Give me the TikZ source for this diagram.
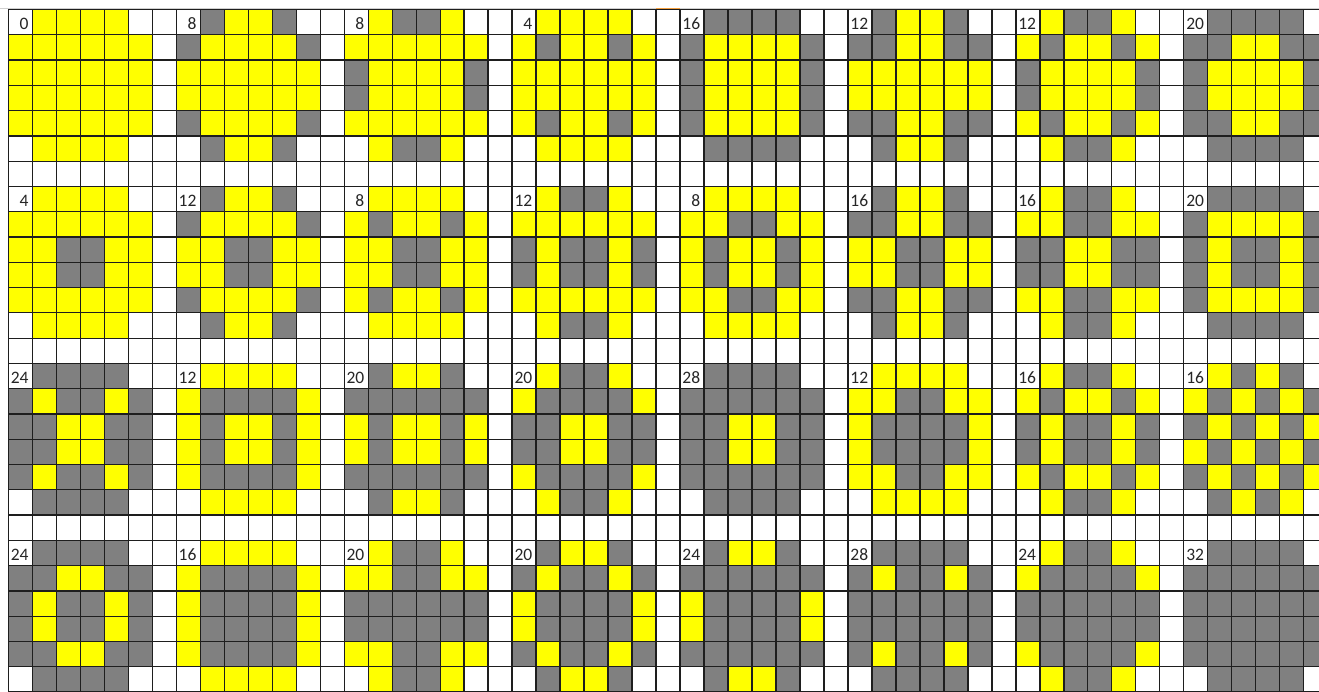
\documentclass[tikz,border=0pt]{standalone}
\usepackage{fontspec}
\setmainfont{Carlito}
\definecolor{yel}{HTML}{FFFF00}
\definecolor{gry}{HTML}{808080}
\definecolor{gridc}{HTML}{1E1E1E}
\definecolor{hdr}{HTML}{D0D0D0}
\definecolor{sel}{HTML}{F4A040}
\newcommand\cellW{23.99}
\newcommand\cellH{25.28}
\newcommand\gx{8.3}
\newcommand\gy{9.5}
\newcommand\pcell[3]{%
  \if#3Y\fill[yel] ({\gx+(\bxx+#1)*\cellW},{\gy+(\byy+#2)*\cellH}) rectangle ++(\cellW,\cellH);\fi
  \if#3G\fill[gry] ({\gx+(\bxx+#1)*\cellW},{\gy+(\byy+#2)*\cellH}) rectangle ++(\cellW,\cellH);\fi}
\newcommand\prow[7]{\pcell{0}{#1}{#2}\pcell{1}{#1}{#3}\pcell{2}{#1}{#4}\pcell{3}{#1}{#5}\pcell{4}{#1}{#6}\pcell{5}{#1}{#7}}
\newcommand\blk[9]{%
  \def\bxx{#1*7}\def\byy{#2*7}%
  \prow{0}#4\prow{1}#5\prow{2}#6\prow{3}#7\prow{4}#8\prow{5}#9%
  \node[numlbl] (n#1#2) at ({\gx+(\bxx+1)*\cellW-3.6},{\gy+(\byy+1)*\cellH-5}) {#3};}
\begin{document}
\begin{tikzpicture}[x=1pt,y=-1pt,
  numlbl/.style={anchor=base east,inner sep=0pt,font=\fontsize{17.5}{17.5}\selectfont,text=black!85},
  gridl/.style={draw=gridc,line width=1.25pt}]
\useasboundingbox (0,0) rectangle (1319,691);
\clip (0,0) rectangle (1319,691);
\fill[white] (0,0) rectangle (1319,691);
% row 0
\blk{0}{0}{0}{.YYYY.}{YYYYYY}{YYYYYY}{YYYYYY}{YYYYYY}{.YYYY.}
\blk{1}{0}{8}{.GYYG.}{GYYYYG}{YYYYYY}{YYYYYY}{GYYYYG}{.GYYG.}
\blk{2}{0}{8}{.YGGY.}{YYYYYY}{GYYYYG}{GYYYYG}{YYYYYY}{.YGGY.}
\blk{3}{0}{4}{.YYYY.}{YGYYGY}{YYYYYY}{YYYYYY}{YGYYGY}{.YYYY.}
\blk{4}{0}{16}{.GGGG.}{GYYYYG}{GYYYYG}{GYYYYG}{GYYYYG}{.GGGG.}
\blk{5}{0}{12}{.GYYG.}{GGYYGG}{YYYYYY}{YYYYYY}{GGYYGG}{.GYYG.}
\blk{6}{0}{12}{.YGGY.}{YGYYGY}{GYYYYG}{GYYYYG}{YGYYGY}{.YGGY.}
\blk{7}{0}{20}{.GGGG.}{GGYYGG}{GYYYYG}{GYYYYG}{GGYYGG}{.GGGG.}
% row 1
\blk{0}{1}{4}{.YYYY.}{YYYYYY}{YYGGYY}{YYGGYY}{YYYYYY}{.YYYY.}
\blk{1}{1}{12}{.GYYG.}{GYYYYG}{YYGGYY}{YYGGYY}{GYYYYG}{.GYYG.}
\blk{2}{1}{8}{.YYYY.}{YGYYGY}{YYGGYY}{YYGGYY}{YGYYGY}{.YYYY.}
\blk{3}{1}{12}{.YGGY.}{YYYYYY}{GYGGYG}{GYGGYG}{YYYYYY}{.YGGY.}
\blk{4}{1}{8}{.YYYY.}{YYGGYY}{YGYYGY}{YGYYGY}{YYGGYY}{.YYYY.}
\blk{5}{1}{16}{.GYYG.}{GGYYGG}{YYGGYY}{YYGGYY}{GGYYGG}{.GYYG.}
\blk{6}{1}{16}{.YGGY.}{YYGGYY}{GGYYGG}{GGYYGG}{YYGGYY}{.YGGY.}
\blk{7}{1}{20}{.GGGG.}{GYYYYG}{GYGGYG}{GYGGYG}{GYYYYG}{.GGGG.}
% row 2
\blk{0}{2}{24}{.GGGG.}{GYGGYG}{GGYYGG}{GGYYGG}{GYGGYG}{.GGGG.}
\blk{1}{2}{12}{.YYYY.}{YGGGGY}{YGYYGY}{YGYYGY}{YGGGGY}{.YYYY.}
\blk{2}{2}{20}{.GYYG.}{GGGGGG}{YGYYGY}{YGYYGY}{GGGGGG}{.GYYG.}
\blk{3}{2}{20}{.YGGY.}{YGGGGY}{GGYYGG}{GGYYGG}{YGGGGY}{.YGGY.}
\blk{4}{2}{28}{.GGGG.}{GGGGGG}{GGYYGG}{GGYYGG}{GGGGGG}{.GGGG.}
\blk{5}{2}{12}{.YYYY.}{YYGGYY}{YGGGGY}{YGGGGY}{YYGGYY}{.YYYY.}
\blk{6}{2}{16}{.YGGY.}{YGYYGY}{GYGGYG}{GYGGYG}{YGYYGY}{.YGGY.}
\blk{7}{2}{16}{.YGYG.}{YGYGYG}{GYGYGY}{YGYGYG}{GYGYGY}{.GYGY.}
% row 3
\blk{0}{3}{24}{.GGGG.}{GGYYGG}{GYGGYG}{GYGGYG}{GGYYGG}{.GGGG.}
\blk{1}{3}{16}{.YYYY.}{YGGGGY}{YGGGGY}{YGGGGY}{YGGGGY}{.YYYY.}
\blk{2}{3}{20}{.YGGY.}{YYGGYY}{GGGGGG}{GGGGGG}{YYGGYY}{.YGGY.}
\blk{3}{3}{20}{.GYYG.}{GYGGYG}{YGGGGY}{YGGGGY}{GYGGYG}{.GYYG.}
\blk{4}{3}{24}{.GYYG.}{GGGGGG}{YGGGGY}{YGGGGY}{GGGGGG}{.GYYG.}
\blk{5}{3}{28}{.GGGG.}{GYGGYG}{GGGGGG}{GGGGGG}{GYGGYG}{.GGGG.}
\blk{6}{3}{24}{.YGGY.}{YGGGGY}{GGGGGG}{GGGGGG}{YGGGGY}{.YGGY.}
\blk{7}{3}{32}{.GGGG.}{GGGGGG}{GGGGGG}{GGGGGG}{GGGGGG}{.GGGG.}
% grid lines
\foreach \k in {0,...,55} \draw[gridl] ({\gx+\k*\cellW},\gy) -- ({\gx+\k*\cellW},700);
\foreach \k in {0,...,27} \draw[gridl] (\gx,{\gy+\k*\cellH}) -- (1330,{\gy+\k*\cellH});
% header border and selected column mark
\draw[hdr,line width=0.8pt] (0,7.9) -- (1319,7.9);
\draw[sel,line width=1.4pt] ({\gx+27*\cellW},8.2) -- ({\gx+28*\cellW},8.2);
\end{tikzpicture}
\end{document}
